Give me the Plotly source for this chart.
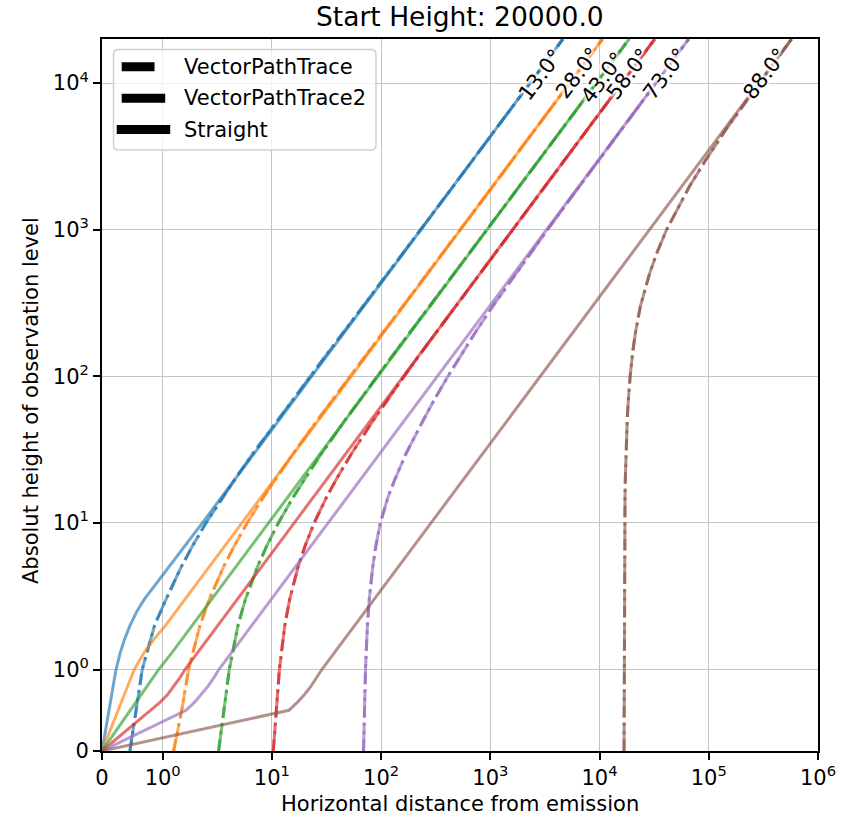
import numpy as np
import plotly.graph_objects as go

# ---------------- data ----------------
ANGLES = [13.0, 28.0, 43.0, 58.0, 73.0, 88.0]
COLORS = ["#1f77b4", "#ff7f0e", "#2ca02c", "#d62728", "#9467bd", "#8c564b"]

# heights of observation level used for the straight lines
H_STRAIGHT = [0, 0.5, 0.6, 0.7, 0.8, 0.9, 1, 1.3, 1.6, 2, 2.5, 3, 4, 5, 7, 10,
              100, 1000, 10000, 20000]
STRAIGHT_13 = [0, 0.115, 0.139, 0.162, 0.185, 0.208, 0.231, 0.300, 0.369, 0.462, 0.577,
               0.693, 0.924, 1.155, 1.616, 2.31, 23.1, 230.9, 2309, 4617]
STRAIGHT_28 = [0, 0.266, 0.319, 0.372, 0.425, 0.479, 0.532, 0.691, 0.851, 1.063, 1.329,
               1.595, 2.127, 2.659, 3.722, 5.32, 53.2, 531.7, 5317, 10634]
STRAIGHT_43 = [0, 0.466, 0.560, 0.653, 0.746, 0.839, 0.933, 1.212, 1.492, 1.865, 2.331,
               2.798, 3.730, 4.663, 6.528, 9.33, 93.3, 932.5, 9325, 18650]
STRAIGHT_58 = [0, 0.800, 0.960, 1.120, 1.280, 1.440, 1.600, 2.080, 2.561, 3.201, 4.001,
               4.801, 6.401, 8.002, 11.20, 16.0, 160.0, 1600, 16003, 32006]
STRAIGHT_73 = [0, 1.635, 1.963, 2.290, 2.617, 2.944, 3.271, 4.252, 5.233, 6.542, 8.177,
               9.813, 13.08, 16.35, 22.90, 32.7, 327.1, 3271, 32709, 65418]
STRAIGHT_88 = [0, 14.32, 17.18, 20.05, 22.91, 25.77, 28.64, 37.23, 45.82, 57.27, 71.59,
               85.91, 114.5, 143.2, 200.5, 286.4, 2864, 28636, 286363, 572726]

# heights used for the vector path traces
H_TRACE = [0, 0.5, 1, 2, 3, 5, 7, 10, 15, 20, 30, 50, 70, 100, 150, 200, 300, 500,
           700, 1000, 2000, 3000, 5000, 10000, 20000]
TRACE_13 = [0.46, 0.562, 0.663, 0.866, 1.070, 1.476, 1.882, 2.492, 3.543, 4.616, 6.764,
            11.20, 15.65, 22.40, 33.71, 45.25, 68.34, 114.8, 162.1, 231.4, 462.3, 693.2,
            1155, 2309, 4618]
TRACE_28 = [1.26, 1.494, 1.728, 2.196, 2.664, 3.600, 4.535, 5.939, 8.358, 10.83, 15.78,
            25.98, 36.25, 51.77, 77.82, 104.4, 157.6, 264.5, 373.5, 533.0, 1064.7, 1596.4,
            2659.8, 5318, 10635]
TRACE_43 = [3.25, 3.660, 4.071, 4.891, 5.712, 7.353, 8.994, 11.46, 15.70, 20.04, 28.71,
            46.61, 64.61, 91.84, 137.5, 184.2, 277.4, 464.8, 656.0, 935.8, 1868, 2801,
            4666, 9328, 18653]
TRACE_58 = [10.3, 11.00, 11.71, 13.12, 14.53, 17.34, 20.16, 24.38, 31.66, 39.11, 53.99,
            84.71, 115.6, 162.3, 240.7, 320.8, 480.8, 802.5, 1130.5, 1610.6, 3210.9, 4811,
            8012, 16013, 32016]
TRACE_73 = [69.0, 70.47, 71.94, 74.89, 77.83, 83.72, 89.61, 98.4, 115.6, 134.4, 170.1,
            242.3, 309.4, 409.2, 569.5, 729.7, 1050.3, 1704.5, 2358.6, 3340, 6611, 9882,
            16424, 32778, 65487]
TRACE_88 = [16760, 16771, 16783, 16806, 16829, 16875, 16920, 16989, 17104, 17218, 17447,
            17905, 18364, 19051, 20196, 21342, 23633, 28644, 33598, 41101, 67159, 94077,
            148486, 288802, 572298]

STRAIGHT = [STRAIGHT_13, STRAIGHT_28, STRAIGHT_43, STRAIGHT_58, STRAIGHT_73, STRAIGHT_88]
TRACES = [TRACE_13, TRACE_28, TRACE_43, TRACE_58, TRACE_73, TRACE_88]

# where the angle labels sit (data units)
LABEL_X = [2880, 6324, 10650, 18400, 40000, 328900]
LABEL_Y = [11380, 11780, 10900, 11480, 11480, 11480]

X_TICKS = [0, 1, 10, 100, 1000, 10000, 100000, 1000000]
X_TICKTEXT = ["0", "10<sup>0</sup>", "10<sup>1</sup>", "10<sup>2</sup>", "10<sup>3</sup>",
              "10<sup>4</sup>", "10<sup>5</sup>", "10<sup>6</sup>"]
Y_TICKS = [0, 1, 10, 100, 1000, 10000]
Y_TICKTEXT = ["0", "10<sup>0</sup>", "10<sup>1</sup>", "10<sup>2</sup>", "10<sup>3</sup>",
              "10<sup>4</sup>"]
X_MAX = 1e6
Y_MAX = 20000.0

# ---------------- symlog scale (linthresh=1, linscale=0.5) ----------------
LIN = 0.5 / (1 - 1 / 10.0)


def slog(v):
    v = np.asarray(v, dtype=float)
    a = np.abs(v)
    out = np.where(a <= 1, v * LIN, np.sign(v) * (LIN + np.log10(np.maximum(a, 1e-300))))
    return out


def rgba(hexc, a):
    h = hexc.lstrip("#")
    return "rgba(%d,%d,%d,%.2f)" % (int(h[0:2], 16), int(h[2:4], 16), int(h[4:6], 16), a)


FONT = "DejaVu Sans"
ALPHA = 0.65
LW = 3

fig = go.Figure()
for i, ang in enumerate(ANGLES):
    c = rgba(COLORS[i], ALPHA)
    fig.add_trace(go.Scatter(x=slog(TRACES[i]), y=slog(H_TRACE), mode="lines",
                             line=dict(color=c, width=LW, dash="11.7px,5px"),
                             name="VectorPathTrace", showlegend=False))
    fig.add_trace(go.Scatter(x=slog(TRACES[i]), y=slog(H_TRACE), mode="lines",
                             line=dict(color=c, width=LW, dash="20.2px,5px,3.2px,5px"),
                             name="VectorPathTrace2", showlegend=False))
    fig.add_trace(go.Scatter(x=slog(STRAIGHT[i]), y=slog(H_STRAIGHT), mode="lines",
                             line=dict(color=c, width=LW),
                             name="Straight", showlegend=False))

# plot area in pixels
L, R, T, B = 102, 34, 39, 69
W, H = 852, 820
PW, PH = W - L - R, H - T - B


def px(X):
    return (X - L) / PW


def py(Y):
    return (H - B - Y) / PH


annotations = []
shadow = "2px 2px 2px white, -2px -2px 2px white, 2px -2px 2px white, -2px 2px 2px white, 0px 0px 3px white"
for i, ang in enumerate(ANGLES):
    annotations.append(dict(x=float(slog(LABEL_X[i])), y=float(slog(LABEL_Y[i])), xref="x", yref="y",
                            text="%.1f°" % ang, showarrow=False, textangle=-53,
                            font=dict(family=FONT, size=21, color="black", shadow=shadow),
                            xanchor="center", yanchor="middle"))

# axis titles and title
annotations.append(dict(x=0.5, y=py(804), xref="paper", yref="paper",
                        text="Horizontal distance from emission", showarrow=False,
                        font=dict(family=FONT, size=21, color="black"),
                        xanchor="center", yanchor="middle"))
annotations.append(dict(x=px(31), y=py(401), xref="paper", yref="paper",
                        text="Absolut height of observation level", showarrow=False, textangle=-90,
                        font=dict(family=FONT, size=21, color="black"),
                        xanchor="center", yanchor="middle"))
annotations.append(dict(x=0.5, y=py(16), xref="paper", yref="paper",
                        text="Start Height: 20000.0", showarrow=False,
                        font=dict(family=FONT, size=26.5, color="black"),
                        xanchor="center", yanchor="middle"))

# hand-drawn legend (matplotlib style)
shapes = []
x0, x1, y0, y1 = px(113.5), px(376), py(150), py(49.5)
rx, ry = 5 / PW, 5 / PH
path = (f"M {x0+rx},{y1} L {x1-rx},{y1} Q {x1},{y1} {x1},{y1-ry} L {x1},{y0+ry} "
        f"Q {x1},{y0} {x1-rx},{y0} L {x0+rx},{y0} Q {x0},{y0} {x0},{y0+ry} "
        f"L {x0},{y1-ry} Q {x0},{y1} {x0+rx},{y1} Z")
shapes.append(dict(type="path", path=path, xref="paper", yref="paper", layer="above",
                   fillcolor="rgba(255,255,255,0.8)", line=dict(color="#d0d0d0", width=1.5)))
LEG_ROWS = [("VectorPathTrace", 121.7, 154.5, 66.7),
            ("VectorPathTrace2", 121.7, 165.2, 98.3),
            ("Straight", 116.7, 170.2, 129.5)]
for text, xa, xb, yc in LEG_ROWS:
    shapes.append(dict(type="rect", xref="paper", yref="paper", layer="above",
                       x0=px(xa), x1=px(xb), y0=py(yc + 4.5), y1=py(yc - 4.5),
                       fillcolor="black", line=dict(width=0)))
    annotations.append(dict(x=px(181.5), y=py(yc), xref="paper", yref="paper", text=text,
                            showarrow=False, xanchor="left", yanchor="middle",
                            font=dict(family=FONT, size=21, color="black")))

axis_common = dict(showline=True, mirror=True, linecolor="black", linewidth=1.7,
                   ticks="outside", ticklen=7, tickwidth=1.7, tickcolor="black",
                   showgrid=True, gridcolor="#c4c4c4", gridwidth=1.4, zeroline=False,
                   tickfont=dict(family=FONT, size=21, color="black"), tickmode="array")

fig.update_layout(
    width=W, height=H, margin=dict(l=L, r=R, t=T, b=B, autoexpand=False),
    paper_bgcolor="white", plot_bgcolor="white", showlegend=False,
    xaxis=dict(range=[0, float(slog(X_MAX))], tickvals=slog(X_TICKS).tolist(),
               ticktext=X_TICKTEXT, **axis_common),
    yaxis=dict(range=[0, float(slog(Y_MAX))], tickvals=slog(Y_TICKS).tolist(),
               ticktext=Y_TICKTEXT, **axis_common),
    annotations=annotations, shapes=shapes,
)

fig.write_html("out.html")
